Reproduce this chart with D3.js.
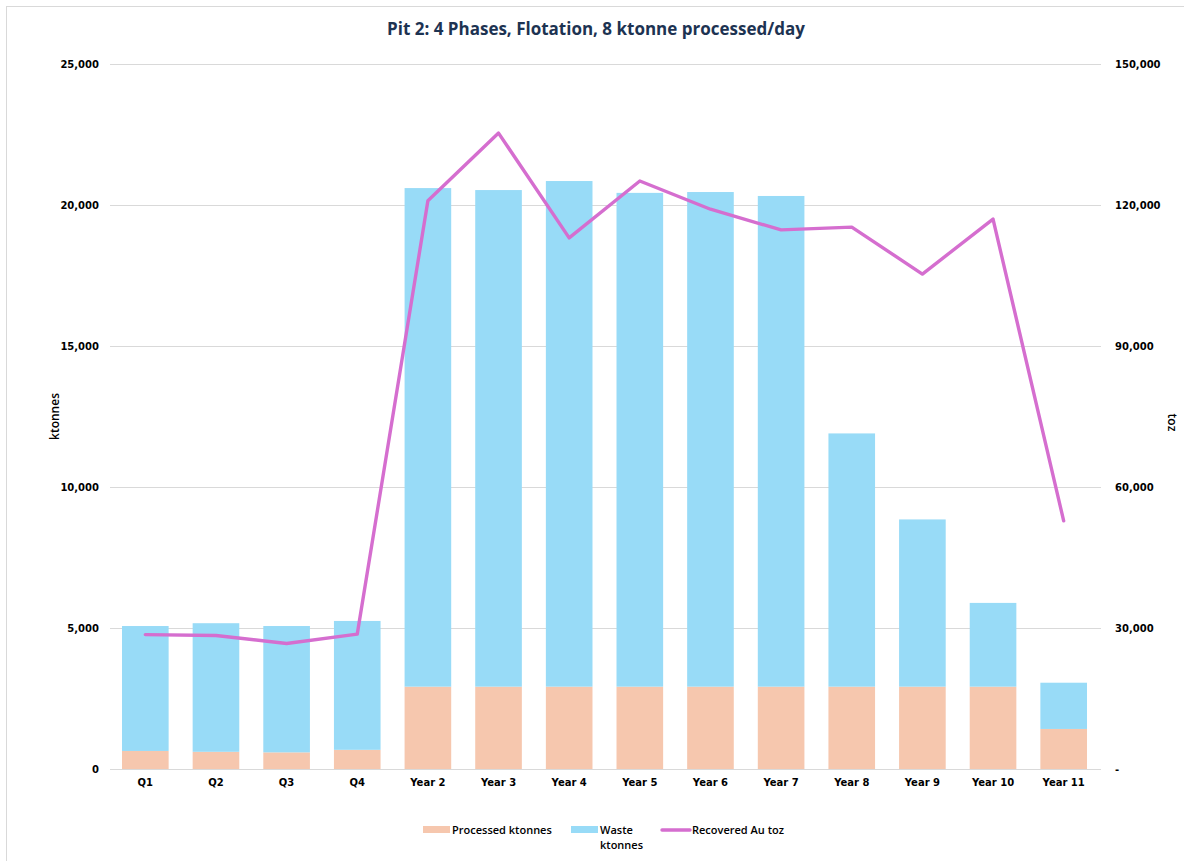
<!DOCTYPE html>
<html>
<head>
<meta charset="utf-8">
<script src="https://cdn.jsdelivr.net/npm/d3@7"></script>
<style>
  html, body { margin: 0; padding: 0; background: #fff; }
  svg { display: block; }
</style>
</head>
<body>
<svg id="chart" width="1184" height="861"></svg>
<script>
// Schedule periods
const periods = ["Q1", "Q2", "Q3", "Q4", "Year 2", "Year 3", "Year 4", "Year 5",
  "Year 6", "Year 7", "Year 8", "Year 9", "Year 10", "Year 11"];

// Mill feed (ktonnes)
const processedKt = [640, 610, 590, 680, 2920, 2920, 2920, 2920, 2920, 2920, 2920, 2920, 2920, 1420];

// Waste mined (ktonnes)
const wasteKt = [4430, 4560, 4480, 4570, 17680, 17610, 17930, 17510, 17540, 17400, 8980, 5930, 2970, 1640];

// Recovered gold (troy ounces)
const recoveredToz = [28600, 28400, 26700, 28700, 120900, 135300, 113000, 125100,
  119100, 114700, 115300, 105300, 117000, 52800];

// Axis ticks
const leftTicks = [0, 5000, 10000, 15000, 20000, 25000];
const rightTicks = [0, 30000, 60000, 90000, 120000, 150000];

const svg = d3.select("#chart");
const W = 1184, H = 861;
const m = { top: 64, right: 85, bottom: 92, left: 110 };
const iw = W - m.left - m.right;   // plot width
const ih = H - m.top - m.bottom;   // plot height

const colors = { processed: "#F6C7AE", waste: "#98DBF7", line: "#D56ECF" };
const tickFont = "'DejaVu Sans', sans-serif";

// Outer chart frame
svg.append("rect")
  .attr("x", 6.5).attr("y", 6.5)
  .attr("width", W + 20).attr("height", H + 20)
  .attr("fill", "none").attr("stroke", "#D9D9D9").attr("stroke-width", 1);

const g = svg.append("g").attr("transform", `translate(${m.left},${m.top})`);

const x = d3.scaleBand().domain(periods).range([0, iw]).paddingInner(0.34).paddingOuter(0.17);
const yL = d3.scaleLinear().domain([0, 25000]).range([ih, 0]);
const yR = d3.scaleLinear().domain([0, 150000]).range([ih, 0]);

// Horizontal gridlines
g.append("g")
  .selectAll("line")
  .data(leftTicks)
  .join("line")
  .attr("x1", 0).attr("x2", iw + 2)
  .attr("y1", d => Math.round(yL(d)) + 0.5)
  .attr("y2", d => Math.round(yL(d)) + 0.5)
  .attr("stroke", "#D9D9D9").attr("stroke-width", 1);

// Stacked bars
const rows = periods.map((p, i) => ({ period: p, processed: processedKt[i], waste: wasteKt[i] }));
const stack = d3.stack().keys(["processed", "waste"])(rows);

g.append("g")
  .selectAll("g")
  .data(stack)
  .join("g")
  .attr("fill", d => colors[d.key])
  .selectAll("rect")
  .data(d => d)
  .join("rect")
  .attr("x", d => x(d.data.period))
  .attr("width", x.bandwidth())
  .attr("y", d => yL(d[1]))
  .attr("height", d => yL(d[0]) - yL(d[1]));

// Recovered gold line
const line = d3.line()
  .x((d, i) => x(periods[i]) + x.bandwidth() / 2)
  .y(d => yR(d));

g.append("path")
  .datum(recoveredToz)
  .attr("d", line)
  .attr("fill", "none")
  .attr("stroke", colors.line)
  .attr("stroke-width", 3.4)
  .attr("stroke-linejoin", "round")
  .attr("stroke-linecap", "round");

// Left axis
const leftAxis = g.append("g")
  .call(d3.axisLeft(yL).tickValues(leftTicks).tickSize(0).tickPadding(11)
    .tickFormat(d3.format(",")));
leftAxis.select(".domain").remove();
leftAxis.selectAll("text")
  .attr("font-family", tickFont).attr("font-size", 10).attr("font-weight", "bold")
  .attr("fill", "#000");

// Right axis
const rightAxis = g.append("g")
  .attr("transform", `translate(${iw},0)`)
  .call(d3.axisRight(yR).tickValues(rightTicks).tickSize(0).tickPadding(16)
    .tickFormat(d => d === 0 ? "-" : d3.format(",")(d)));
rightAxis.select(".domain").remove();
rightAxis.selectAll("text")
  .attr("font-family", tickFont).attr("font-size", 10).attr("font-weight", "bold")
  .attr("fill", "#000");

// Category axis
const bottomAxis = g.append("g")
  .attr("transform", `translate(0,${ih})`)
  .call(d3.axisBottom(x).tickSize(0).tickPadding(10));
bottomAxis.select(".domain").attr("stroke", "#D9D9D9").attr("d", `M0,0.5H${iw + 2}`);
bottomAxis.selectAll("text")
  .attr("font-family", tickFont).attr("font-size", 10).attr("font-weight", "bold")
  .attr("fill", "#000");

// Title
svg.append("text")
  .attr("x", 596).attr("y", 35)
  .attr("text-anchor", "middle")
  .attr("font-family", "'Open Sans', sans-serif")
  .attr("font-size", 17).attr("font-weight", 700)
  .attr("fill", "#1D3352")
  .text("Pit 2: 4 Phases, Flotation, 8 ktonne processed/day");

// Axis titles
svg.append("text")
  .attr("transform", `translate(59,${m.top + ih / 2}) rotate(-90)`)
  .attr("text-anchor", "middle")
  .attr("font-family", "'Open Sans', sans-serif")
  .attr("font-size", 12).attr("font-weight", 600).attr("fill", "#000")
  .text("ktonnes");

svg.append("text")
  .attr("transform", `translate(1168,${m.top + ih / 2 + 6}) rotate(90)`)
  .attr("text-anchor", "middle")
  .attr("font-family", "'Open Sans', sans-serif")
  .attr("font-size", 12).attr("font-weight", 600).attr("fill", "#000")
  .text("toz");

// Legend
const legendFont = "'Open Sans', sans-serif";
const lg = svg.append("g").attr("font-family", legendFont)
  .attr("font-size", 11).attr("font-weight", 600).attr("fill", "#000");

lg.append("rect").attr("x", 423).attr("y", 826).attr("width", 27).attr("height", 7).attr("fill", colors.processed);
lg.append("text").attr("x", 452).attr("y", 834).text("Processed ktonnes");

lg.append("rect").attr("x", 571).attr("y", 826).attr("width", 27).attr("height", 7).attr("fill", colors.waste);
lg.append("text").attr("x", 600).attr("y", 834).text("Waste");
lg.append("text").attr("x", 600).attr("y", 849).text("ktonnes");

lg.append("line").attr("x1", 662).attr("x2", 690).attr("y1", 830).attr("y2", 830)
  .attr("stroke", colors.line).attr("stroke-width", 3.4).attr("stroke-linecap", "round");
lg.append("text").attr("x", 692).attr("y", 834).text("Recovered Au toz");
</script>
</body>
</html>
